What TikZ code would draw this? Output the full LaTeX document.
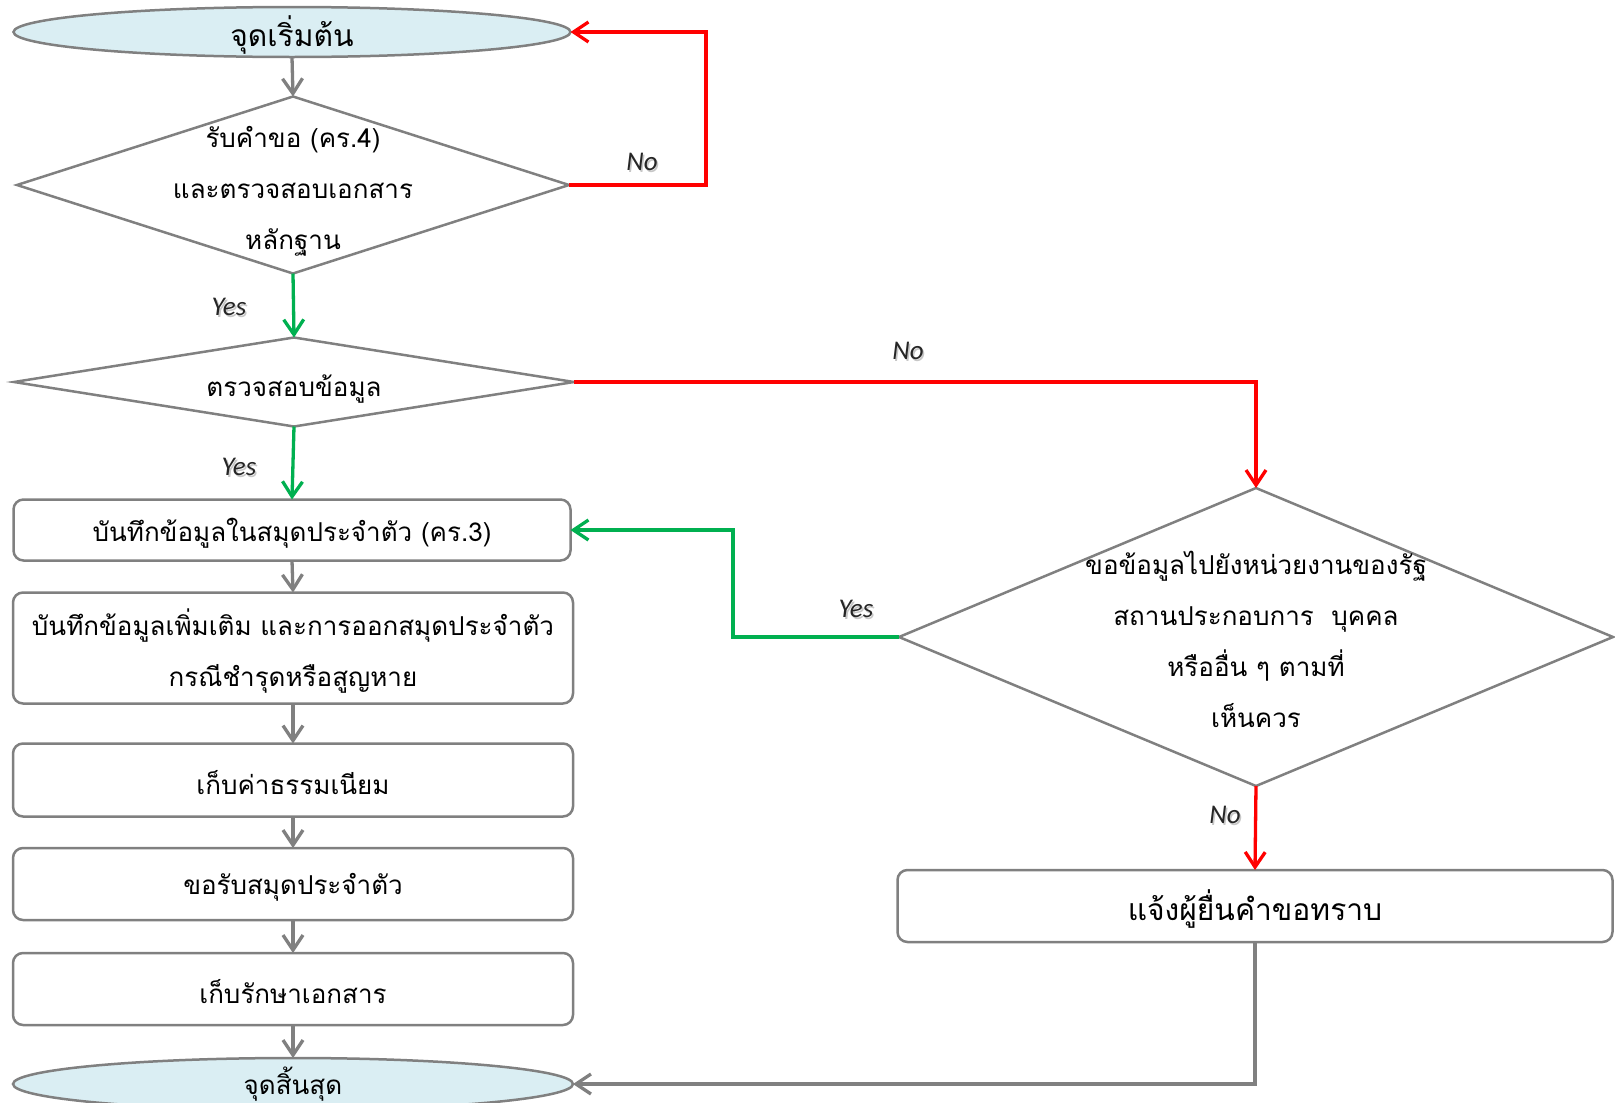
\documentclass[tikz,border=0pt]{standalone}
\usepackage{fontspec}
\newfontfamily\thai[Script=Thai]{Loma}
\newfontfamily\lat{Carlito}
\usetikzlibrary{shapes.geometric,arrows.meta}
\definecolor{lineGray}{RGB}{128,128,128}
\definecolor{fillBlue}{RGB}{218,238,243}
\definecolor{yesGreen}{RGB}{0,176,80}
\definecolor{noRed}{RGB}{255,0,0}
\newcommand{\dn}[1]{\raisebox{-3pt}[\height][\depth]{#1}}
\newcommand{\shd}[1]{\makebox[0pt][l]{\hspace{1.6pt}\raisebox{-1.6pt}{\textcolor{black!22}{#1}}}#1}
\tikzset{
 shapeline/.style={draw=lineGray, line width=2.5pt},
 term/.style={shapeline, ellipse, fill=fillBlue, inner sep=0pt, outer sep=0pt},
 decision/.style={shapeline, diamond, inner sep=0pt, outer sep=0pt, fill=white},
 thaitext/.style={font=\thai\fontsize{26}{51}\selectfont, align=center, inner sep=0pt},
 bigthai/.style={font=\thai\fontsize{30}{36}\selectfont, align=center, inner sep=0pt},
 procbox/.style={shapeline, rectangle, rounded corners=10pt, inner sep=0pt, outer sep=0pt, align=center, font=\thai\fontsize{26}{51}\selectfont},
 flow/.style={line width=3.3pt, -{Straight Barb[length=15pt,width=20pt]}},
 gflow/.style={flow, draw=lineGray},
 yflow/.style={flow, draw=yesGreen},
 nflow/.style={flow, draw=noRed},
 lbl/.style={font=\lat\itshape\fontsize{27}{30}\selectfont, text=black!85, inner sep=0pt},
}
\begin{document}
\begin{tikzpicture}[x=1pt,y=-1pt]
\useasboundingbox (0,0) rectangle (1615,1103);
% left column
\node[term, minimum width=557pt, minimum height=50pt] (start) at (292,32) {};
\node[bigthai] (startT) at (292,35) {จุดเริ่มต้น};
\node[decision, minimum width=552pt, minimum height=177pt] (d1) at (293,185) {};
\node[thaitext] (d1T) at (293,191) {รับคำขอ (คร.4)\\และตรวจสอบเอกสาร\\หลักฐาน};
\node[decision, minimum width=560pt, minimum height=89pt] (d2) at (294,382) {};
\node[thaitext] (d2T) at (294,389) {ตรวจสอบข้อมูล};
\node[procbox, minimum width=557pt, minimum height=61pt] (b1) at (292,530) {\dn{บันทึกข้อมูลในสมุดประจำตัว (คร.3)}};
\node[procbox, minimum width=560pt, minimum height=111pt] (b2) at (293,648) {\dn{บันทึกข้อมูลเพิ่มเติม และการออกสมุดประจำตัว}\\\dn{กรณีชำรุดหรือสูญหาย}};
\node[procbox, minimum width=560pt, minimum height=73pt] (b3) at (293,780) {\dn{เก็บค่าธรรมเนียม}};
\node[procbox, minimum width=560pt, minimum height=72pt] (b4) at (293,884) {\dn{ขอรับสมุดประจำตัว}};
\node[procbox, minimum width=560pt, minimum height=72pt] (b5) at (293,989) {\dn{เก็บรักษาเอกสาร}};
\node[term, minimum width=560pt, minimum height=52pt] (finish) at (293,1084) {};
\node[thaitext] (finishT) at (293,1084) {จุดสิ้นสุด};
% right column
\node[decision, minimum width=714pt, minimum height=298pt] (d3) at (1256,637) {};
\node[thaitext] (d3T) at (1256,639) {ขอข้อมูลไปยังหน่วยงานของรัฐ\\สถานประกอบการ\ \ บุคคล\\หรืออื่น ๆ ตามที่\\เห็นควร};
\node[procbox, minimum width=715pt, minimum height=72pt, font=\thai\fontsize{30}{36}\selectfont] (b6) at (1255,906) {\dn{แจ้งผู้ยื่นคำขอทราบ}};
% connectors
\draw[gflow] (start.south) -- (d1.north);
\draw[nflow] (d1.east) -- ++(137,0) |- (start.east);
\draw[yflow] (d1.south) -- (d2.north);
\draw[nflow] (d2.east) -| (d3.north);
\draw[yflow] (d2.south) -- (b1.north);
\draw[yflow] (d3.west) -- ++(-166,0) |- (b1.east);
\draw[nflow] (d3.south) -- (b6.north);
\draw[gflow] (b1.south) -- (b2.north);
\draw[gflow] (b2.south) -- (b3.north);
\draw[gflow] (b3.south) -- (b4.north);
\draw[gflow] (b4.south) -- (b5.north);
\draw[gflow] (b5.south) -- (finish.north);
\draw[gflow] (b6.south) |- (finish.east);
% labels
\node[lbl] (l1) at (642,163) {\shd{No}};
\node[lbl] (l2) at (229,308) {\shd{Yes}};
\node[lbl] (l3) at (908,352) {\shd{No}};
\node[lbl] (l4) at (239,468) {\shd{Yes}};
\node[lbl] (l5) at (856,610) {\shd{Yes}};
\node[lbl] (l6) at (1225,816) {\shd{No}};
\end{tikzpicture}
\end{document}
